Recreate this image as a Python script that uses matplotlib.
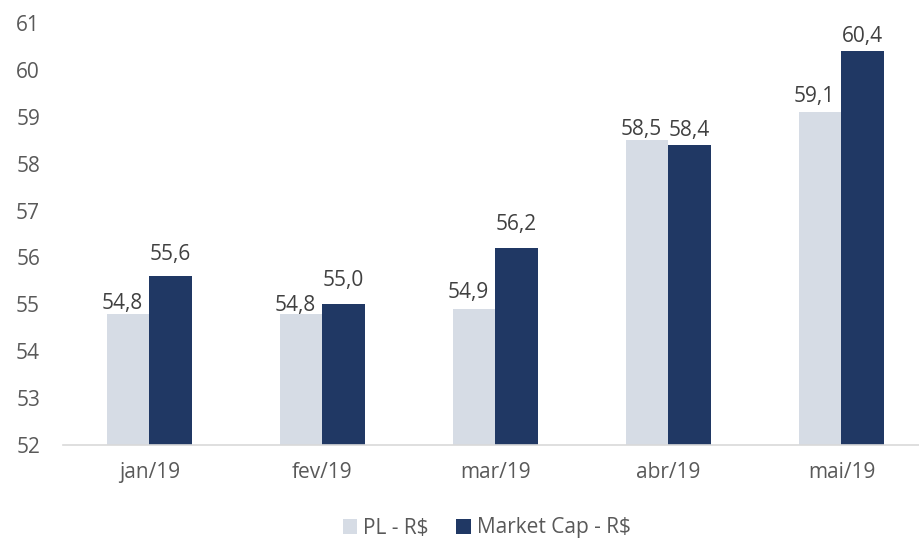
import matplotlib
matplotlib.use('Agg')
import matplotlib.pyplot as plt
import numpy as np

meses = ['jan/19', 'fev/19', 'mar/19', 'abr/19', 'mai/19']
pl = [54.8, 54.8, 54.9, 58.5, 59.1]
market_cap = [55.6, 55.0, 56.2, 58.4, 60.4]

# label gaps above each bar (pixels), as placed in the original
gap_pl = [5, 3, 11, 5, 10]
gap_mc = [16, 18, 18, 9, 9]

plt.rcParams['font.family'] = ['Open Sans', 'DejaVu Sans']

fig = plt.figure(figsize=(9.2, 5.41), dpi=100)
ax = fig.add_axes([63 / 920, 1 - 445 / 541, 857 / 920, 422 / 541])

x = np.arange(len(meses))
w = 0.243
b1 = ax.bar(x - w / 2, pl, w, color='#D6DCE5', label='PL - R$')
b2 = ax.bar(x + w / 2, market_cap, w, color='#203864', label='Market Cap - R$')

for bars, vals, gaps, dx in [(b1, pl, gap_pl, -6), (b2, market_cap, gap_mc, 0)]:
    for r, v, g in zip(bars, vals, gaps):
        ax.annotate(f'{v:.1f}'.replace('.', ','), (r.get_x() + r.get_width() / 2, v),
                    xytext=(dx, g), textcoords='offset pixels',
                    ha='center', va='baseline', fontsize=15, color='#404040')

ax.set_ylim(52, 61)
ax.set_yticks(range(52, 62))
ax.set_xlim(-0.5, -0.5 + 857 / 173)
ax.set_xticks(x)
ax.set_xticklabels(meses)

for s in ['top', 'right', 'left']:
    ax.spines[s].set_visible(False)
ax.spines['bottom'].set_color('#D9D9D9')
ax.spines['bottom'].set_linewidth(1.2)
ax.tick_params(axis='both', length=0, labelsize=15, labelcolor='#595959')
ax.tick_params(axis='y', pad=16.5)
ax.tick_params(axis='x', pad=12)

fig.legend(loc='center', bbox_to_anchor=(0.529, 1 - 528 / 541), ncol=2, frameon=False,
           fontsize=15, labelcolor='#595959', handlelength=0.7, handleheight=0.7,
           handletextpad=0.3, columnspacing=1.3)

fig.savefig('out.png', dpi=100)
